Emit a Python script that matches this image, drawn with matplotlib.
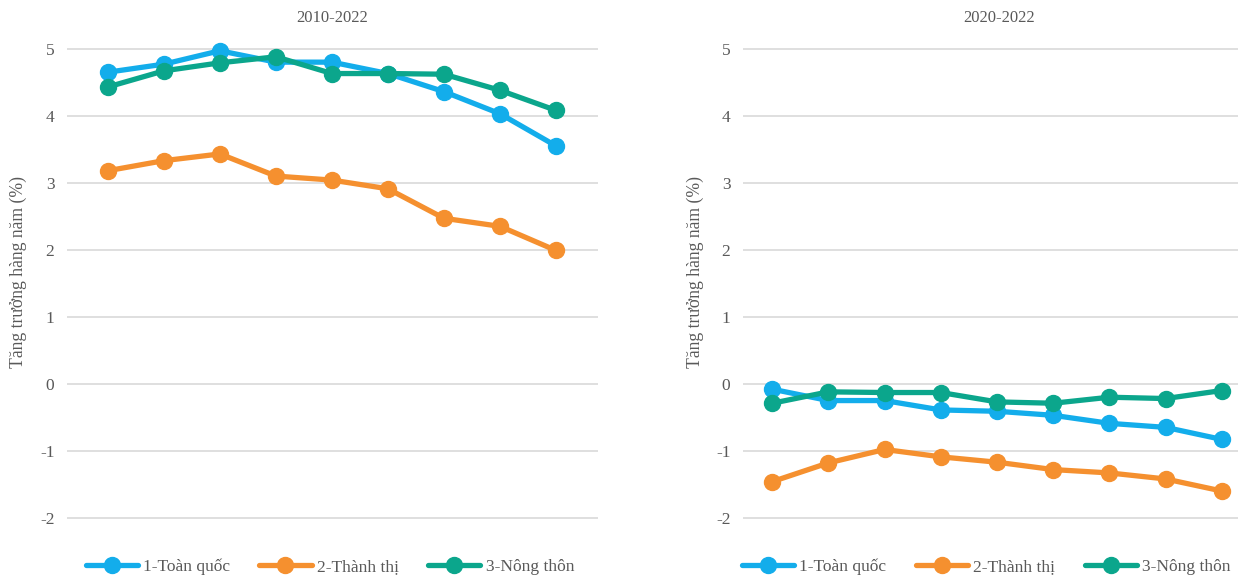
import matplotlib.pyplot as plt
import numpy as np

plt.rcParams['font.family'] = ['Liberation Serif', 'DejaVu Serif']

series_names = ["1-Toàn quốc", "2-Thành thị", "3-Nông thôn"]
colors = ["#13ADEB", "#F5902F", "#0BA68C"]

# 2010-2022
left_toan_quoc = [4.65, 4.77, 4.97, 4.80, 4.80, 4.63, 4.36, 4.03, 3.55]
left_thanh_thi = [3.18, 3.33, 3.43, 3.10, 3.04, 2.91, 2.47, 2.35, 1.99]
left_nong_thon = [4.43, 4.67, 4.79, 4.88, 4.63, 4.63, 4.62, 4.38, 4.08]

# 2020-2022
right_toan_quoc = [-0.08, -0.25, -0.25, -0.39, -0.41, -0.47, -0.59, -0.65, -0.83]
right_thanh_thi = [-1.46, -1.18, -0.98, -1.09, -1.17, -1.28, -1.33, -1.42, -1.60]
right_nong_thon = [-0.29, -0.12, -0.13, -0.13, -0.27, -0.29, -0.20, -0.22, -0.10]

titles = ["2010-2022", "2020-2022"]
ylabel = "Tăng trưởng hàng năm (%)"
yticks = [-2, -1, 0, 1, 2, 3, 4, 5]

W, H = 1238, 577
fig = plt.figure(figsize=(W / 100, H / 100), dpi=100)
text_color = "#595959"


def px_axes(x0, x1, y_top, y_bot):
    return fig.add_axes([x0 / W, 1 - y_bot / H, (x1 - x0) / W, (y_bot - y_top) / H])


def draw(ax, data, title, xlim, legend_x, label_x):
    x = np.arange(len(data[0]))
    for vals, name, c in zip(data, series_names, colors):
        ax.plot(x, vals, color=c, lw=3.8, marker="o", ms=11.5, label=name,
                solid_capstyle="round")
    ax.set_xlim(*xlim)
    ax.set_ylim(-2.48, 5.22)
    ax.set_yticks(yticks)
    ax.set_yticklabels([str(t) for t in yticks], fontsize=12.5, color=text_color)
    ax.set_xticks([])
    ax.grid(axis="y", color="#D9D9D9", lw=1.2)
    ax.set_axisbelow(True)
    for s in ax.spines.values():
        s.set_visible(False)
    ax.tick_params(axis="y", length=0, pad=9)
    ax.set_title(title, fontsize=12, color=text_color, pad=9)
    ax.legend(loc="center", bbox_to_anchor=(legend_x, -0.033), ncol=3,
              frameon=False, fontsize=12.5, handlelength=3.0,
              columnspacing=1.7, handletextpad=0.3, labelcolor=text_color)
    fig.text(label_x / W, 1 - 272 / H, ylabel, rotation=90, ha="center",
             va="center", fontsize=12.7, color=text_color)


ax1 = px_axes(67, 598, 34, 550)
draw(ax1, [left_toan_quoc, left_thanh_thi, left_nong_thon], titles[0],
     (-0.73, 8.75), 0.495, 18)

ax2 = px_axes(743, 1255, 34, 550)
draw(ax2, [right_toan_quoc, right_thanh_thi, right_nong_thon], titles[1],
     (-0.52, 8.59), 0.475, 695)

fig.savefig("out.png", dpi=100, facecolor="white")
